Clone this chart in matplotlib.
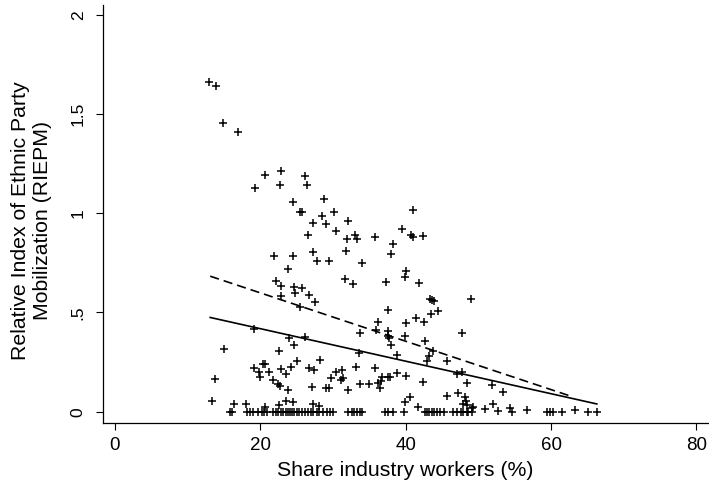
import matplotlib
matplotlib.use("Agg")
import matplotlib.pyplot as plt
import numpy as np

plt.rcParams['font.family'] = ['Liberation Sans', 'DejaVu Sans']

# observations with RIEPM > 0 (share industry workers %, RIEPM)
pos_x = [13.0, 13.9, 14.8, 16.9,
         22.9, 20.7, 19.3, 22.7, 24.5, 25.4, 26.15, 26.4, 28.7, 25.7, 30.1, 28.45,
         27.3, 29.1, 32.1, 30.4, 26.6, 33.0, 33.3, 31.9, 35.8, 41.06, 39.5, 40.7,
         41.06, 42.4, 38.2, 38.0, 27.2, 21.9, 24.5, 27.85, 29.4, 31.75, 34.0, 23.8,
         40.1, 39.9, 37.3, 41.9, 31.66, 32.7, 22.1, 22.9, 24.6, 25.8, 24.8, 26.75,
         22.8, 43.4, 43.6, 43.9, 48.96, 27.5, 25.4, 37.6, 44.4, 41.4, 42.5, 43.45,
         40.05, 36.2, 35.9, 37.6, 33.7, 39.9, 37.5, 37.7, 38.0, 42.7, 47.7, 43.7,
         43.2, 43.0, 45.65, 38.8, 33.6, 26.15, 23.9, 24.6, 19.1, 15.0, 22.5, 25.1,
         28.2, 20.3, 20.7, 19.1, 19.8, 21.2, 22.8, 24.2, 19.9, 23.6, 13.8, 21.7,
         22.4, 22.7, 23.8, 26.75, 27.4, 33.2, 35.8, 30.4, 31.2, 31.4, 29.7, 36.7,
         36.6, 37.5, 37.8, 38.8, 40.05, 31.1, 33.7, 35.0, 36.2, 32.0, 36.5, 29.0,
         29.5, 27.1, 42.35, 47.0, 47.7, 48.5, 51.85, 53.45, 45.7, 47.25, 48.2, 48.3,
         47.9, 48.4, 40.6, 39.9, 41.7, 49.2, 27.3, 28.1, 13.35, 16.4, 18.0, 20.6,
         22.6, 23.6, 24.5, 52.0, 50.9, 54.4, 56.7, 63.3, 49.1, 52.7]
pos_y = [1.662, 1.64, 1.454, 1.408,
         1.212, 1.193, 1.128, 1.145, 1.057, 1.007, 1.188, 1.141, 1.073, 1.006, 1.006, 0.984,
         0.95, 0.945, 0.962, 0.911, 0.893, 0.891, 0.87, 0.868, 0.88, 1.019, 0.921, 0.89,
         0.881, 0.886, 0.844, 0.794, 0.806, 0.786, 0.786, 0.759, 0.76, 0.809, 0.747, 0.719,
         0.708, 0.678, 0.655, 0.65, 0.668, 0.646, 0.66, 0.635, 0.628, 0.624, 0.598, 0.588,
         0.581, 0.569, 0.562, 0.559, 0.566, 0.554, 0.526, 0.512, 0.507, 0.473, 0.45, 0.49,
         0.445, 0.453, 0.411, 0.408, 0.398, 0.381, 0.381, 0.369, 0.336, 0.356, 0.398, 0.306,
         0.28, 0.255, 0.255, 0.284, 0.297, 0.375, 0.373, 0.334, 0.416, 0.317, 0.306, 0.255,
         0.26, 0.24, 0.24, 0.22, 0.201, 0.201, 0.215, 0.225, 0.175, 0.19, 0.165, 0.16,
         0.138, 0.129, 0.109, 0.219, 0.21, 0.224, 0.222, 0.201, 0.21, 0.171, 0.171, 0.176,
         0.156, 0.173, 0.176, 0.193, 0.18, 0.16, 0.139, 0.139, 0.143, 0.109, 0.118, 0.121,
         0.121, 0.126, 0.151, 0.19, 0.201, 0.146, 0.134, 0.101, 0.081, 0.093, 0.072, 0.055,
         0.039, 0.034, 0.076, 0.05, 0.025, 0.025, 0.039, 0.03, 0.052, 0.039, 0.039, 0.025,
         0.032, 0.055, 0.049, 0.037, 0.014, 0.02, 0.009, 0.009, 0.02, 0.004]

# observations with RIEPM = 0
zero_x = [15.83, 16.15, 18.12, 18.58, 19.04, 19.73, 20.19, 20.55, 20.88, 21.79,
          22.16, 22.48, 22.85, 23.17, 23.5, 23.77, 24.09, 24.41, 24.68, 25.01,
          25.33, 25.78, 26.15, 26.52, 26.98, 27.3, 27.76, 28.12, 28.67, 29.13,
          29.59, 30.05, 32.1, 32.6, 32.9, 33.3, 33.7, 34.0, 37.2, 37.6, 38.2,
          39.7, 42.6, 42.9, 43.2, 43.6, 43.9, 44.3, 44.7, 45.3, 46.5, 47.0,
          47.6, 47.9, 48.4, 48.6, 49.1, 54.6, 59.4, 59.8, 60.3, 61.5, 65.1, 66.3]
zero_y = [0.0] * len(zero_x)

# fitted lines (end points)
fit_all_x = [13.1, 66.3]
fit_all_y = [0.475, 0.039]
fit_alt_x = [13.1, 62.9]
fit_alt_y = [0.683, 0.076]

x_ticks = [0, 20, 40, 60, 80]
y_ticks = [0, 0.5, 1, 1.5, 2]
y_tick_labels = ['0', '.5', '1', '1.5', '2']

fig = plt.figure(figsize=(7.09, 4.92), dpi=100)
ax = fig.add_axes([103/709, 69/492, 605/709, 418/492])

mk = dict(linestyle='none', marker='+', markersize=5.5, markeredgewidth=1.1, color='black')
ax.plot(pos_x, pos_y, **mk)
ax.plot(zero_x, zero_y, **mk)
ax.plot(fit_all_x, fit_all_y, color='black', lw=1.2)
ax.plot(fit_alt_x, fit_alt_y, color='black', lw=1.2, dashes=(5.5, 3))

ax.set_xlim(-1.65, 81.6)
ax.set_ylim(-0.057, 2.05)
ax.set_xticks(x_ticks)
ax.set_yticks(y_ticks)
ax.set_yticklabels(y_tick_labels, rotation=90, va='center')
ax.tick_params(axis='both', direction='out', length=5, width=0.8)
ax.tick_params(axis='x', labelsize=13.5, pad=5)
ax.tick_params(axis='y', labelsize=12.5, pad=7.5)

for s in ['top', 'right']:
    ax.spines[s].set_visible(False)
for s in ['left', 'bottom']:
    ax.spines[s].set_linewidth(0.9)

ax.set_xlabel('Share industry workers (%)', fontsize=15.3, labelpad=5)
ax.set_ylabel('Relative Index of Ethnic Party\nMobilization (RIEPM)', fontsize=15.3)
ax.yaxis.set_label_coords(-0.085, 0.485)

fig.savefig('out.png', dpi=100)
